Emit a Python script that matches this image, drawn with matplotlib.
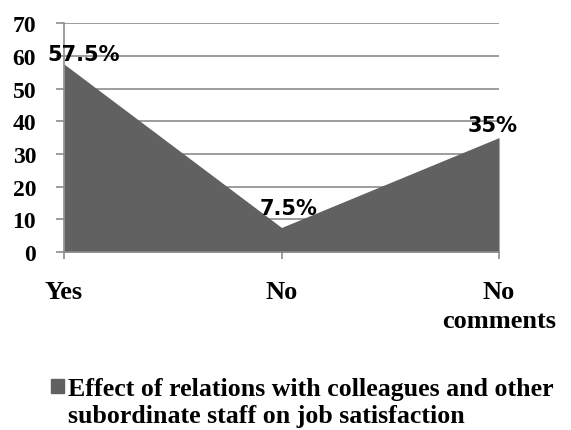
import matplotlib.pyplot as plt
import numpy as np

categories = ['Yes', 'No', 'No\ncomments']
values = [57.5, 7.5, 35]
point_labels = ['57.5%', '7.5%', '35%']
legend_label = 'Effect of relations with colleagues and other\nsubordinate staff on job satisfaction'

fill_color = '#616161'
grid_color = '#8c8c8c'

fig = plt.figure(figsize=(5.71, 4.31), dpi=100)
ax = fig.add_axes([0.112, 0.413, 0.762, 0.531])

x = np.arange(len(categories))
ax.fill_between(x, values, 0, color=fill_color, linewidth=0, zorder=2)

ax.set_xlim(0, len(categories) - 1)
ax.set_ylim(0, 70)
ax.set_yticks(range(0, 71, 10))
ax.yaxis.grid(True, color=grid_color, linewidth=1.2, zorder=0)
for s in ['top', 'right']:
    ax.spines[s].set_visible(False)
ax.spines['left'].set_color(grid_color)
ax.spines['bottom'].set_color(grid_color)
ax.spines['left'].set_linewidth(1.2)
ax.spines['bottom'].set_linewidth(1.2)

ax.set_xticks(x)
ax.set_xticklabels(categories, fontsize=19, fontweight='bold', family='Liberation Serif',
                   linespacing=1.35)
ax.tick_params(axis='x', length=5, width=1.2, color=grid_color, pad=15)
ax.tick_params(axis='y', length=6, width=1.2, color=grid_color, pad=14)
for t in ax.get_yticklabels():
    t.set_fontsize(17)
    t.set_fontweight('bold')
    t.set_family('Liberation Serif')

# data labels
offsets = [(14, 7), (5, 14), (-5, 9)]
for xi, v, lab, off in zip(x, values, point_labels, offsets):
    ax.annotate(lab, (xi, v), xytext=off, textcoords='offset points',
                ha='center', va='center', fontsize=15, fontweight='bold',
                family='DejaVu Sans', zorder=5, annotation_clip=False)

# legend
fig.patches.append(plt.Rectangle((51 / 571, 1 - 394 / 431), 13 / 571, 14 / 431,
                                 transform=fig.transFigure, color=fill_color))
fig.text(68 / 571, 1 - 403 / 431, legend_label, fontsize=18.6, fontweight='bold',
         family='Liberation Serif', ha='left', va='center', linespacing=1.22)

fig.savefig('out.png', dpi=100)
